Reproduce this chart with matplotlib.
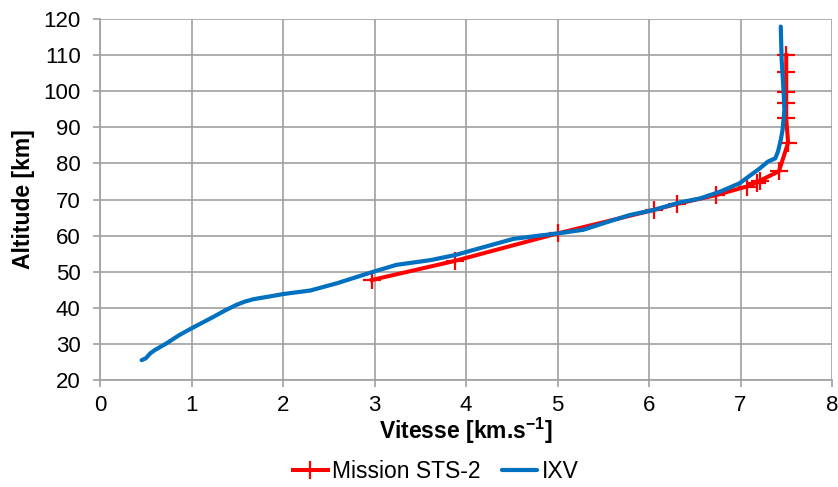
import matplotlib

matplotlib.use("Agg")

import matplotlib.pyplot as plt  # noqa: E402

plt.rcParams["font.family"] = ["Liberation Sans", "DejaVu Sans"]
plt.rcParams["mathtext.fontset"] = "custom"
plt.rcParams["mathtext.rm"] = "Liberation Sans"
plt.rcParams["mathtext.bf"] = "Liberation Sans:bold"

# Mission STS-2 (points with + markers)
sts2_vitesse = [2.97, 3.88, 5.00, 6.05, 6.31, 6.73, 7.07, 7.18, 7.21, 7.42, 7.52,
                7.50, 7.50, 7.50, 7.50, 7.50]
sts2_altitude = [47.7, 53.0, 60.6, 67.1, 68.8, 71.2, 73.6, 74.7, 75.2, 77.8, 85.7,
                 92.5, 96.6, 99.8, 105.4, 110.0]

# IXV (continuous trajectory)
ixv_vitesse = [0.455, 0.50, 0.55, 0.60, 0.73, 0.87, 1.00, 1.24, 1.37, 1.49, 1.58,
               1.68, 1.89, 2.00, 2.30, 2.59, 2.95, 3.24, 3.61, 3.88, 4.15, 4.52,
               4.77, 5.00, 5.28, 5.50, 5.79, 6.05, 6.34, 6.56, 6.78, 6.99, 7.21,
               7.30, 7.38, 7.41, 7.44, 7.46, 7.48, 7.47, 7.45, 7.44]
ixv_altitude = [25.5, 26.0, 27.4, 28.3, 30.2, 32.5, 34.3, 37.5, 39.3, 40.8, 41.7,
                42.4, 43.3, 43.8, 44.8, 46.8, 49.7, 51.9, 53.2, 54.6, 56.5, 59.1,
                59.9, 60.6, 61.6, 63.4, 65.7, 67.1, 69.2, 70.3, 72.2, 74.5, 78.6,
                80.5, 81.4, 83.3, 86.5, 89.3, 94.8, 100.3, 108.6, 117.9]

x_ticks = list(range(0, 9))
y_ticks = list(range(20, 121, 10))

fig = plt.figure(figsize=(8.38, 4.87), dpi=100)
ax = fig.add_axes((100 / 838, 1 - 380 / 487, 732 / 838, 361 / 487))

ax.plot(sts2_vitesse, sts2_altitude, color="#FF0000", lw=2.9, marker="+",
        markersize=13, markeredgewidth=1.6, label="Mission STS-2", zorder=3)
ax.plot(ixv_vitesse, ixv_altitude, color="#0070C0", lw=3.0,
        solid_capstyle="round", solid_joinstyle="round", label="IXV", zorder=4)

ax.set_xlim(0, 8)
ax.set_ylim(20, 120)
ax.set_xticks(x_ticks)
ax.set_yticks(y_ticks)
ax.grid(True, color="#A0A0A0", lw=1.2)
ax.set_axisbelow(True)
for side in ("top", "right"):
    ax.spines[side].set_visible(False)
for side in ("left", "bottom"):
    ax.spines[side].set_color("#A0A0A0")
    ax.spines[side].set_linewidth(1.2)
ax.tick_params(axis="both", labelsize=16, color="#A0A0A0", length=5, width=1.2,
               labelcolor="black")
ax.tick_params(axis="y", pad=9)
ax.tick_params(axis="x", pad=6)

ax.set_xlabel(r"Vitesse [km.s$^{\mathbf{-1}}$]", fontsize=16.5, fontweight="bold",
              labelpad=0)
ax.set_ylabel("Altitude [km]", fontsize=16.5, fontweight="bold", labelpad=6)

fig.legend(loc="lower center", bbox_to_anchor=(0.52, -0.035), ncol=2, frameon=False,
           fontsize=16.5, handlelength=1.5, handletextpad=0.2, columnspacing=0.95)

fig.savefig("out.png", dpi=100)
